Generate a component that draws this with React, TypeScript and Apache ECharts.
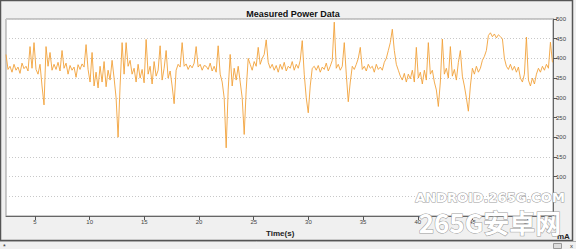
import React, { useEffect, useRef } from "react";
import * as echarts from "echarts";

const TITLE = "Measured Power Data";
const X_NAME = "Time(s)";
const Y_NAME = "mA";
const START_TIME = 2.35;
const TIME_STEP = 0.183;
const X_TICKS = [5, 10, 15, 20, 25, 30, 35, 40, 45, 50];
const POWER_MA = [
  410, 372, 380, 365, 385, 370, 378, 362, 388, 374, 380, 368, 430, 375, 440, 372, 360, 385, 330, 282,
  430, 380, 415, 370, 385, 372, 390, 368, 420, 375, 388, 360, 382, 370, 378, 352, 384, 372, 386, 378,
  435, 372, 340, 415, 330, 365, 325, 380, 340, 392, 328, 370, 345, 395, 350, 300, 200, 330, 440, 360,
  440, 380, 395, 360, 375, 340, 385, 350, 372, 338, 448, 360, 380, 335, 392, 355, 370, 432, 345, 375,
  420, 350, 368, 330, 285, 370, 385, 378, 440, 380, 386, 372, 383, 376, 388, 430, 378, 385, 370, 382,
  380, 372, 388, 368, 380, 365, 432, 360, 340, 300, 173, 320, 410, 330, 375, 345, 380, 340, 300, 207,
  320, 400, 385, 370, 392, 380, 428, 385, 400, 410, 447, 390, 375, 385, 370, 382, 365, 385, 372, 390,
  368, 380, 375, 392, 370, 385, 375, 395, 445, 360, 300, 262, 330, 375, 380, 370, 382, 365, 378, 372,
  388, 368, 380, 395, 492, 375, 385, 370, 380, 440, 360, 290, 340, 380, 372, 385, 400, 428, 372, 380,
  368, 385, 375, 380, 365, 385, 372, 378, 370, 390, 400, 420, 440, 474, 420, 385, 370, 355, 345, 362,
  340, 360, 348, 370, 340, 428, 350, 365, 335, 370, 345, 440, 360, 370, 340, 320, 278, 340, 449, 360,
  375, 350, 430, 355, 372, 345, 390, 420, 355, 330, 300, 266, 330, 375, 360, 380, 365, 375, 395, 405,
  420, 458, 465, 455, 462, 452, 460, 455, 450, 400, 380, 372, 385, 370, 380, 365, 378, 350, 340, 360,
  454, 345, 330, 350, 335, 360, 375, 365, 380, 370, 385, 375, 441, 390,
];

export default function App() {
  const ref = useRef<HTMLDivElement>(null);
  useEffect(() => {
    if (!ref.current) return;
    const chart = echarts.init(ref.current, undefined, { renderer: "svg" });
    const data = POWER_MA.map((v, i) => [START_TIME + i * TIME_STEP, v]);
    chart.setOption({
      animation: false,
      backgroundColor: "#f0f0f0",
      title: {
        text: TITLE,
        left: 288,
        textAlign: "center",
        top: 4,
        textStyle: { fontFamily: "Liberation Sans, Arial", fontSize: 9, fontWeight: "bold", color: "#111" },
      },
      grid: {
        left: 6,
        right: 23,
        top: 19,
        bottom: 33,
        show: true,
        backgroundColor: "#ffffff",
        borderColor: "#999",
        borderWidth: 1,
      },
      xAxis: {
        type: "value",
        min: 2.35,
        max: 52.36,
        axisLine: { show: true, lineStyle: { color: "#666" } },
        axisTick: { show: true, length: 4, customValues: X_TICKS, lineStyle: { color: "#555" } },
        axisLabel: {
          customValues: X_TICKS,
          fontSize: 6,
          color: "#444",
          margin: 3,
          fontFamily: "Liberation Sans, Arial",
        },
        splitLine: { show: false },
      },
      yAxis: {
        type: "value",
        position: "right",
        min: 0,
        max: 500,
        interval: 50,
        axisLine: { show: true, lineStyle: { color: "#666" } },
        axisTick: { show: true, length: 4, lineStyle: { color: "#555" } },
        axisLabel: { fontSize: 6, color: "#444", margin: 3, fontFamily: "Liberation Sans, Arial" },
        splitLine: { show: true, lineStyle: { color: "#c8c8c8", type: [1, 2], width: 1 } },
      },
      series: [
        {
          type: "line",
          data,
          showSymbol: false,
          symbol: "none",
          lineStyle: { color: "#f2a23a", width: 0.9 },
          z: 3,
        },
      ],
      graphic: [
        { type: "rect", shape: { x: 0.5, y: 0.5, width: 572, height: 240 }, style: { fill: "none", stroke: "#555", lineWidth: 1.5 }, z: 10 },
        { type: "line", shape: { x1: 0, y1: 241.5, x2: 576, y2: 241.5 }, style: { stroke: "#aaa", lineWidth: 1 }, z: 10 },
        { type: "text", x: 266, y: 233, style: { text: X_NAME, fontSize: 8, fontWeight: "bold", fill: "#222", align: "left", verticalAlign: "middle", fontFamily: "Liberation Sans, Arial" }, z: 10 },
        { type: "text", x: 557, y: 236, style: { text: Y_NAME, fontSize: 8, fontWeight: "bold", fill: "#222", align: "left", verticalAlign: "middle", fontFamily: "Liberation Sans, Arial" }, z: 10 },
        { type: "text", x: 3, y: 246, style: { text: "*", fontSize: 7, fill: "#333", verticalAlign: "middle" }, z: 10 },
        { type: "rect", shape: { x: 553.5, y: 243.5, width: 8, height: 5 }, style: { fill: "#ddd", stroke: "#999" }, z: 10 },
        { type: "text", x: 570, y: 246, style: { text: "x", fontSize: 6, fill: "#333", verticalAlign: "middle" }, z: 10 },
        { type: "text", x: 490, y: 197, style: { text: "ANDROID.265G.COM", fontSize: 13, fontWeight: "bold", fill: "#ffffff", stroke: "#9a9a9a", lineWidth: 1, align: "center", verticalAlign: "middle", fontFamily: "DejaVu Sans" }, z: 20 },
        { type: "text", x: 490, y: 221, style: { text: "265G安卓网", fontSize: 26, fontWeight: "bold", fill: "#ffffff", stroke: "#9a9a9a", lineWidth: 1, align: "center", verticalAlign: "middle", fontFamily: "Noto Sans CJK SC" }, z: 20 },
      ],
    });
    return () => chart.dispose();
  }, []);
  return <div ref={ref} style={{ position: "fixed", left: 0, top: 0, width: 576, height: 249 }} />;
}
